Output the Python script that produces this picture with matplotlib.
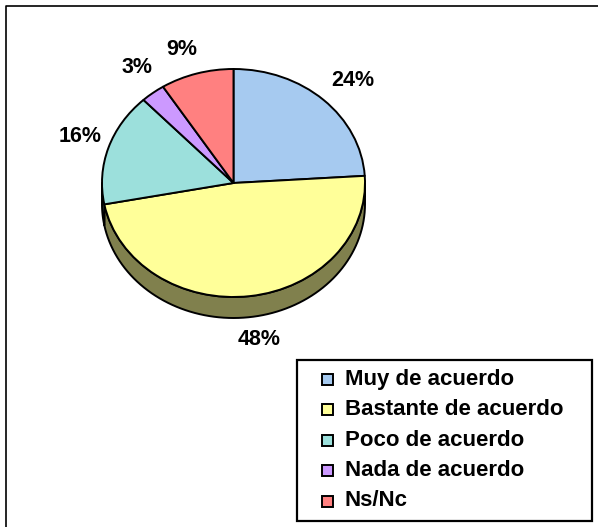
import numpy as np
import matplotlib
matplotlib.use('Agg')
import matplotlib.pyplot as plt
from matplotlib.patches import Wedge, Polygon, Rectangle
from matplotlib.transforms import Affine2D
from matplotlib.colors import to_rgb

categories = ['Muy de acuerdo', 'Bastante de acuerdo', 'Poco de acuerdo',
              'Nada de acuerdo', 'Ns/Nc']
values = [24, 48, 16, 3, 9]
colors = ['#a6caf0', '#ffff99', '#9ce0dc', '#cc99ff', '#ff8080']

plt.rcParams['font.family'] = ['Liberation Sans', 'DejaVu Sans']

W, H = 598, 527
fig = plt.figure(figsize=(W / 100, H / 100), dpi=100)
ax = fig.add_axes([0, 0, 1, 1])
ax.set_xlim(0, W)
ax.set_ylim(H, 0)
ax.axis('off')

# pie geometry in pixel space (tilted pie = flattened ellipse + depth)
cx, cy = 233.5, 183
rx, ry = 131.5, 114
depth = 21

ellipse = Affine2D().scale(rx, -ry).translate(cx, cy) + ax.transData

total = sum(values)
angles = [90.0]
for v in values:
    angles.append(angles[-1] - 360.0 * v / total)


def shade(c, f=0.5):
    r, g, b = to_rgb(c)
    return (r * f, g * f, b * f)


def arc(t0, t1, n=80):
    t = np.radians(np.linspace(t0, t1, n))
    return cx + rx * np.cos(t), cy - ry * np.sin(t)


# side walls on the front half
for i, c in enumerate(colors):
    hi, lo = angles[i], angles[i + 1]
    for a, b in [(-180, 0), (180, 360)]:
        s, e = max(lo, a), min(hi, b)
        if e <= s:
            continue
        x, y = arc(s, e)
        pts = np.column_stack([np.r_[x, x[::-1]], np.r_[y, y[::-1] + depth]])
        ax.add_patch(Polygon(pts, closed=True, facecolor=shade(c),
                             edgecolor='black', lw=1.4, joinstyle='round'))

# top face
for i, c in enumerate(colors):
    ax.add_patch(Wedge((0, 0), 1, angles[i + 1], angles[i], facecolor=c,
                       edgecolor='black', lw=1.4, transform=ellipse,
                       joinstyle='round'))

# percentage labels outside the pie
nudges = [(2, 2), (4, -7), (10, -2), (9, -2), (-4, 5)]
for i, v in enumerate(values):
    mid = np.radians((angles[i] + angles[i + 1]) / 2)
    lx = cx + (rx + 40) * np.cos(mid) + nudges[i][0]
    ly = cy - (ry + 30) * np.sin(mid) + nudges[i][1]
    if np.sin(mid) < 0:
        ly += depth
    ax.text(lx, ly, f'{v}%', ha='center', va='center', fontsize=15.5,
            fontweight='bold')

# outer frame
ax.plot([6, 6, W + 5], [H + 5, 6, 6], color='black', lw=1.2)

# legend
lx0, ly0, lx1, ly1 = 297, 360, 592, 521
ax.add_patch(Rectangle((lx0, ly0), lx1 - lx0, ly1 - ly0, facecolor='white',
                       edgecolor='black', lw=1.6))
for i, (name, c) in enumerate(zip(categories, colors)):
    yy = 379 + i * 30.5
    ax.add_patch(Rectangle((322, yy - 5.5), 11, 11, facecolor=c,
                           edgecolor='black', lw=1.4))
    ax.text(345, yy, name, ha='left', va='center', fontsize=16,
            fontweight='bold')

fig.savefig('out.png', dpi=100)
